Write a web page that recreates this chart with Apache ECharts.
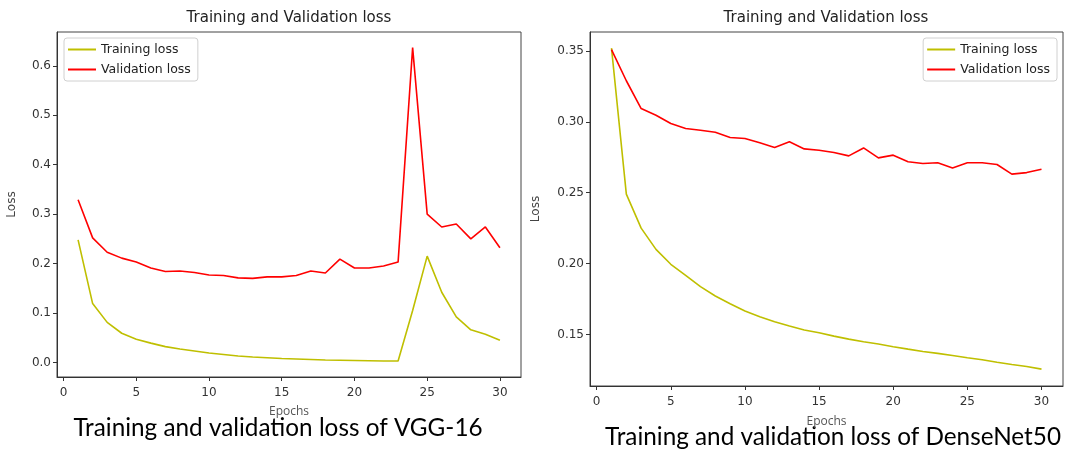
<!DOCTYPE html>
<html>
<head>
<meta charset="utf-8">
<script src="https://cdn.jsdelivr.net/npm/echarts@6/dist/echarts.min.js"></script>
<style>
  html, body { margin: 0; padding: 0; background: #fff; }
  #main { width: 1073px; height: 454px; }
</style>
</head>
<body>
<div id="main"></div>
<script>
// epochs 1..30
var epochs = [];
for (var i = 1; i <= 30; i++) epochs.push(i);

var vggTrain = [0.248, 0.119, 0.081, 0.059, 0.047, 0.039, 0.032, 0.027, 0.023, 0.019,
  0.016, 0.013, 0.011, 0.0095, 0.008, 0.007, 0.006, 0.005, 0.0045, 0.004,
  0.0035, 0.003, 0.003, 0.105, 0.215, 0.142, 0.092, 0.066, 0.057, 0.045];
var vggVal = [0.329, 0.252, 0.223, 0.211, 0.203, 0.191, 0.184, 0.185, 0.182, 0.177,
  0.176, 0.171, 0.170, 0.173, 0.173, 0.176, 0.185, 0.181, 0.209, 0.191,
  0.191, 0.195, 0.203, 0.637, 0.300, 0.274, 0.280, 0.250, 0.274, 0.232];

var denseTrain = [0.352, 0.249, 0.225, 0.210, 0.1995, 0.1917, 0.1837, 0.1771, 0.1717, 0.1665,
  0.1625, 0.159, 0.156, 0.1531, 0.1512, 0.1488, 0.1467, 0.1448, 0.1432, 0.1413,
  0.1396, 0.138, 0.1366, 0.1351, 0.1335, 0.1321, 0.1304, 0.1288, 0.1274, 0.1255];
var denseVal = [0.351, 0.329, 0.3094, 0.3047, 0.2988, 0.2953, 0.2941, 0.2927, 0.289, 0.2882,
  0.2852, 0.2819, 0.2859, 0.2809, 0.2800, 0.2784, 0.2760, 0.2816, 0.2746, 0.2765,
  0.2718, 0.2706, 0.2711, 0.2675, 0.2711, 0.2711, 0.2699, 0.2631, 0.2642, 0.2666];

var xTicks = [0, 5, 10, 15, 20, 25, 30];
var vggYTicks = [0.0, 0.1, 0.2, 0.3, 0.4, 0.5, 0.6];
var denseYTicks = [0.15, 0.20, 0.25, 0.30, 0.35];

function pairs(ys) {
  return ys.map(function (v, i) { return [epochs[i], v]; });
}

var font = 'DejaVu Sans';
var axisCol = '#333';

function xAxisCfg(idx, gap) {
  return {
    type: 'value', gridIndex: idx, min: -0.45, max: 31.45,
    name: 'Epochs', nameLocation: 'middle', nameGap: gap,
    nameTextStyle: { fontFamily: 'Open Sans', fontSize: 12, color: '#555' },
    axisLine: { show: true, onZero: false, lineStyle: { color: axisCol } },
    axisTick: { show: true, length: 4, customValues: xTicks, lineStyle: { color: axisCol } },
    axisLabel: { customValues: xTicks, fontFamily: font, fontSize: 12, color: '#333', margin: 10 },
    splitLine: { show: false }
  };
}

function yAxisCfg(idx, min, max, ticks, digits, gap) {
  return {
    type: 'value', gridIndex: idx, min: min, max: max,
    name: 'Loss', nameLocation: 'middle', nameGap: gap, nameRotate: 90,
    nameTextStyle: { fontFamily: font, fontSize: 12, color: '#444' },
    axisLine: { show: true, onZero: false, lineStyle: { color: axisCol } },
    axisTick: { show: true, length: 4, customValues: ticks, lineStyle: { color: axisCol } },
    axisLabel: {
      customValues: ticks, fontFamily: font, fontSize: 12, color: '#333', margin: 6,
      formatter: function (v) { return v.toFixed(digits); }
    },
    splitLine: { show: false }
  };
}

function lineSeries(name, data, color, idx) {
  return {
    name: name, type: 'line', xAxisIndex: idx, yAxisIndex: idx,
    data: pairs(data), symbol: 'none', smooth: false,
    lineStyle: { color: color, width: 1.6 }, itemStyle: { color: color },
    animation: false
  };
}

function legendCfg(pos) {
  var l = {
    orient: 'vertical', top: 38,
    data: ['Training loss', 'Validation loss'],
    icon: 'rect', itemWidth: 28, itemHeight: 2, itemGap: 7,
    textStyle: { fontFamily: font, fontSize: 12.5, color: '#222' },
    backgroundColor: '#fff', borderColor: '#d0d0d0', borderWidth: 1, borderRadius: 3,
    padding: [5, 7, 5, 4], selectedMode: false
  };
  for (var k in pos) l[k] = pos[k];
  return l;
}

var chart = echarts.init(document.getElementById('main'), null, { renderer: 'canvas' });
chart.setOption({
  backgroundColor: '#fff',
  animation: false,
  grid: [
    { left: 57, top: 32, width: 464, height: 345, show: true, borderColor: '#444', borderWidth: 1, backgroundColor: '#fff' },
    { left: 590, top: 32, width: 473, height: 354, show: true, borderColor: '#444', borderWidth: 1, backgroundColor: '#fff' }
  ],
  xAxis: [xAxisCfg(0, 29), xAxisCfg(1, 30)],
  yAxis: [
    yAxisCfg(0, -0.0295, 0.6685, vggYTicks, 1, 39),
    yAxisCfg(1, 0.1136, 0.3634, denseYTicks, 2, 48)
  ],
  legend: [
    legendCfg({ left: 64 }),
    legendCfg({ right: 16 })
  ],
  series: [
    lineSeries('Training loss', vggTrain, '#bfbf00', 0),
    lineSeries('Validation loss', vggVal, '#ff0000', 0),
    lineSeries('Training loss', denseTrain, '#bfbf00', 1),
    lineSeries('Validation loss', denseVal, '#ff0000', 1)
  ],
  graphic: [
    { type: 'text', x: 289, y: 18, style: { text: 'Training and Validation loss', fontFamily: font, fontSize: 15, fill: '#222', textAlign: 'center', textVerticalAlign: 'middle' } },
    { type: 'text', x: 826, y: 18, style: { text: 'Training and Validation loss', fontFamily: font, fontSize: 15, fill: '#222', textAlign: 'center', textVerticalAlign: 'middle' } },
    { type: 'text', x: 278, y: 428, style: { text: 'Training and validation loss of VGG-16', fontFamily: 'Lato', fontSize: 24.3, fill: '#000', textAlign: 'center', textVerticalAlign: 'middle' } },
    { type: 'text', x: 833, y: 437, style: { text: 'Training and validation loss of DenseNet50', fontFamily: 'Lato', fontSize: 24.3, fill: '#000', textAlign: 'center', textVerticalAlign: 'middle' } }
  ]
});
</script>
</body>
</html>
